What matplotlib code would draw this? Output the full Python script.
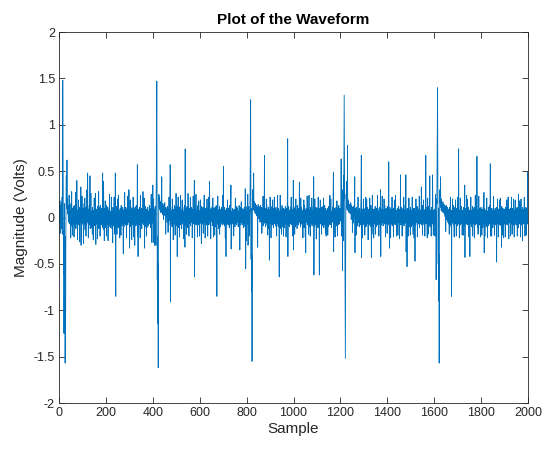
import numpy as np
import matplotlib
matplotlib.use("Agg")
import matplotlib.pyplot as plt

# waveform samples in centivolts, five blocks of 400 samples (one pulse each)
block_1 = [
    3, -6, 11, 18, -17, 5, -9, 13, -4, 15, -12, 6, 22, -18, 70, 148, 96, 25, -60, -15,
    -125, -40, 15, -70, -20, -157, -90, -127, -30, 20, 45, 10, 25, 62, 12, 20, 4, 13, 7, -5,
    9, -3, 24, 5, -7, 6, 15, -4, 2, -22, 7, -9, 4, 28, -6, 2, -19, 10, -2, 5,
    -7, 12, 3, -21, 8, -4, 13, -9, 5, -2, 27, -12, 10, 2, -5, 40, -7, 4, -24, 8,
    1, -5, 19, -8, 4, 11, -2, -26, 6, -1, 8, -5, 33, -30, 4, 7, -8, 23, -3, 5,
    -6, 10, 2, -28, 5, -4, 15, -7, 3, 21, -13, 4, -2, 11, -20, 6, 1, -7, 30, -4,
    7, 48, -5, 9, -22, 2, 6, -8, 13, -3, 4, 45, -12, 5, -2, 26, -7, 4, -11, 7,
    2, -18, 11, -4, 8, -24, 5, 1, -6, 21, -2, 7, -9, 3, 26, -5, -29, 6, 1, -7,
    9, -4, 5, -23, 12, -1, 4, -7, 28, -12, 5, 2, -4, 11, -20, 13, -2, 6, -5, 3,
    -8, 10, 4, -3, 7, 48, -11, 2, 8, 39, -13, 5, -25, 10, -1, -9, 18, 4, -11, 8,
    2, -20, 13, -4, 9, -7, 1, 11, -25, 5, -2, 8, -10, 4, 25, -5, 7, -2, -11, 6,
    4, -8, 22, -1, 7, -12, 5, 2, -27, 11, -4, 8, -9, 3, 22, -5, 10, -18, 1, 48,
    -6, -85, 9, 2, -4, 12, -18, 5, 1, -10, 20, -2, 24, -11, 4, 8, -5, 2, -22, 7,
    10, -3, 5, -19, 13, -1, 4, -9, 6, 2, -5, 11, -7, -39, 8, 3, -10, 5, -2, 27,
    -6, 7, 2, -8, 11, -4, 5, -22, 9, 1, -4, 23, -8, 6, -1, 10, -5, 30, 3, -7,
    -33, 8, -2, 19, -10, 12, 1, -6, 7, -24, 4, 10, -3, 2, -8, 22, -5, 7, -21, 4,
    8, -2, -30, 11, -7, 5, 1, -9, 13, -4, 6, -7, 2, 57, -20, 5, -42, 9, -4, 7,
    -8, 3, 11, -5, 4, -22, 24, -1, 7, -7, 10, 2, -12, 5, -3, 8, -6, 28, -4, 4,
    6, -8, 21, -2, -33, 7, 1, -10, 12, -5, 4, 9, -20, 2, -11, 8, -1, 11, -4, 5,
    -9, 7, 2, -5, 13, -7, 4, -2, 10, -11, 5, 1, 25, -6, 8, -27, 3, -4, 11, 35,
]
block_2 = [
    4, -7, 20, -27, 6, -5, 9, -30, 2, 12, -9, 5, -30, 20, 45, 110, 147, 60, -67, -20,
    -114, -50, -162, -80, 10, 25, 14, 9, 22, 11, 17, 7, 15, 12, 5, 18, 10, 44, 6, 14,
    11, 3, 15, 7, 12, -2, 9, 13, 4, 10, 16, 2, 8, 6, -18, 11, 5, 8, 1, 9,
    -5, 7, 12, 2, -16, 9, 4, -8, 22, 2, 6, -3, 7, 57, -91, 12, 4, -7, 8, -2,
    5, -10, 20, 3, -4, 8, -24, 5, 1, 9, -7, 13, -2, 6, -19, 4, 11, -5, 26, -1,
    4, -9, 12, -42, 7, 2, -6, 22, -4, 5, -11, 8, 1, -21, 11, -7, 3, 24, -8, 6,
    -2, 8, -12, 5, 19, -4, 1, 11, -7, 4, -23, 7, 2, -5, 13, -3, -32, 74, 6, -8,
    5, 10, -18, 2, -8, 12, -1, 7, -11, 26, 8, -4, 5, -20, 10, 1, -6, 8, -2, 22,
    -9, 4, 6, -5, 11, -2, 7, -22, 3, 9, -5, 23, -7, 4, -1, 8, 40, -64, 5, -4,
    10, -7, 2, 25, -8, 5, -3, 8, 1, -21, 6, 13, -4, 4, -8, 18, -2, 7, -20, 5,
    7, -2, 19, -6, 4, -10, -28, 12, 2, -5, 8, -7, 5, 11, -17, 3, -9, 7, 24, -5,
    1, 8, -22, 5, -2, 10, -7, 4, 11, -8, 20, -3, 8, -20, 4, 1, -5, 22, -8, 7,
    3, 39, -4, 9, -7, 5, -23, 2, 10, -4, 7, -1, 12, -9, 5, 21, -6, 2, -21, 10,
    -2, 6, 4, -19, 11, -5, 7, -10, 1, 13, -3, 5, -85, 8, -7, 4, 23, -2, 6, -12,
    8, -4, 2, 12, -18, 5, -1, 9, -10, 7, 2, -6, 11, -4, 7, -8, 4, 24, -5, 10,
    55, -7, 5, 1, -9, 11, -3, 8, -22, 4, 8, -42, 6, -2, 10, -7, 3, 19, -5, 7,
    -8, 4, 10, -2, 6, -11, 13, -4, 2, 8, -7, 11, 35, -34, 5, -19, 7, 1, -5, 10,
    2, -7, 8, 5, -20, 4, 9, -4, 7, -10, 1, 21, -6, 8, -2, 5, -8, 12, -3, 6,
    10, -5, 4, -10, 7, 2, -7, 13, -2, 5, -35, 8, 4, -8, 11, -1, 17, -5, 3, 10,
    -8, 6, -4, 9, 1, -11, 8, 5, -6, 11, -2, 7, -10, 31, 4, -55, 12, -4, -25, 5,
]
block_3 = [
    2, -7, 11, -5, 25, -30, 6, -9, 12, -4, 7, -20, 3, 9, 40, 90, 127, 50, -45, 10,
    -80, -40, -155, -60, 15, 30, 12, 8, 18, 48, 13, 9, 17, 6, 14, 11, 4, 15, 9, 12,
    7, 13, 2, 11, 6, -3, -32, 10, 14, 5, 8, -1, 12, 7, 3, 10, -5, 8, 13, 4,
    9, -4, 6, 11, -17, 4, 8, -5, 2, 23, -9, 7, 3, -2, 12, 67, -6, 5, 8, -10,
    4, 10, -5, 20, -2, 13, -8, 5, 1, -19, 9, -4, 6, 11, -12, 2, -46, 8, -3, 22,
    10, -6, 4, -22, 8, 1, -5, 12, -8, 4, 19, -2, 10, -11, 5, 2, -7, 22, -4, 7,
    -1, 9, -9, 5, 11, -5, 3, -20, 8, -2, 6, 24, -7, 4, -10, 10, 1, -5, -64, 7,
    5, -8, 24, -3, 7, -12, 4, 8, -18, 2, 13, -4, 7, -10, 5, 10, -20, 2, -2, 9,
    -11, 6, 4, -7, 12, -2, 8, -21, 5, 1, 10, -5, 7, 30, 85, -42, 4, -8, 12, 3,
    -5, 8, -10, 5, 2, -7, 11, -4, 7, 22, -8, 4, -1, 9, -6, 7, -20, 4, 40, -35,
    8, -4, 10, 1, -18, 5, 12, -10, 3, 20, -2, 8, -7, 5, -12, 13, 2, -5, 10, -3,
    7, -8, 4, 12, 38, -5, 7, -1, 9, -10, 21, 2, -7, 11, -4, 8, 1, -19, 6, -22,
    4, 10, -6, 19, -11, 7, 13, -3, 5, -21, 8, -38, 4, 10, -5, 7, -2, 23, -8, 5,
    1, -7, 9, -18, 6, 24, -10, 3, -2, 8, -20, 5, 11, -7, 4, 1, -5, 21, -9, 7,
    -2, 8, -5, 12, 4, 44, -62, 7, -10, 5, 20, -4, 6, -8, 2, 11, -23, 8, -1, 4,
    10, -7, 5, -11, 22, -3, 7, 2, -8, -62, 10, -5, 4, 19, -7, 6, -1, 11, -18, 5,
    7, -4, 3, -9, 12, 1, -6, 21, -11, 5, 9, -2, 13, -8, 4, -17, 10, 1, -20, 7,
    -4, 8, 5, -7, 10, -19, 6, -10, 2, 12, -5, 8, -7, 4, 24, -8, 5, -1, 20, -6,
    4, -11, 7, 2, -5, 11, -3, 7, 26, 49, -37, 5, -8, 10, -2, 6, -21, 8, 1, -5,
    11, -7, 4, -9, 18, 5, -20, 9, -2, 7, -8, 4, 13, -5, 2, -7, 10, -4, 6, 10,
]
block_4 = [
    -3, 7, 63, -20, 5, 25, -7, 9, -57, 30, 6, -25, 45, 20, 90, 132, 70, -10, -40, -90,
    -152, -70, 5, 25, 22, 11, 39, 13, 8, 78, 15, 12, 19, 7, 16, 11, 5, 14, 9, 6,
    12, 4, 10, 16, 6, -2, 8, 13, 5, 11, -16, 7, 10, 2, 12, -6, 7, 9, 2, 5,
    44, -38, 8, -3, 10, 5, -19, 6, 11, -4, 3, -9, 7, 1, 22, -5, 8, -2, 4, -10,
    7, 10, -4, 5, -8, 2, 11, 25, 67, -43, 6, -5, 9, -22, 4, 7, -1, 20, -7, 4,
    -8, 8, 2, -19, 10, -3, 6, 22, -10, 5, -1, 20, -7, 4, 11, -4, 7, -24, 3, 9,
    -6, 5, 1, -8, 21, -2, 7, -10, 5, 13, -5, -43, 8, 3, -9, 24, -2, 6, -18, 8,
    4, -22, 9, -4, 7, 2, -7, 12, -18, 8, -1, 5, -10, 10, 2, -6, 8, 24, -8, 4,
    7, -3, 5, -20, 10, 1, -7, 11, -4, 8, 30, -42, 4, 9, -8, 6, -2, 23, -5, 5,
    2, -9, 8, 7, -5, 20, -7, 3, 13, -4, 5, -21, 8, -2, 10, -6, 4, 1, -17, 12,
    -2, 7, 10, -5, 4, 60, -8, 8, -33, 5, 11, -4, 7, -22, 2, 9, -7, 5, -1, 22,
    -9, 4, 8, -3, 6, -21, 10, 1, -6, 19, -5, 7, -8, 4, 24, -7, 5, -2, 8, -20,
    5, 7, -4, 10, -19, 2, 12, -5, 8, -1, 6, -23, 9, 4, -7, 46, -8, 7, -2, 11,
    -5, 5, -20, 8, 2, -7, 10, -3, 7, 22, -9, 4, -1, 8, -6, 13, 5, -4, 46, -37,
    7, -7, 3, -53, 10, -4, 6, 1, -20, 9, -5, 21, -2, 5, -10, 8, 2, -19, 11, -3,
    7, -10, 4, 8, -5, 22, -8, 5, 1, -18, 10, -4, 7, -22, 3, 10, -7, -47, 6, 2,
    -8, 20, -1, 8, -5, 4, 12, -21, 5, 7, -4, 9, -7, 2, -2, 23, -11, 6, 4, -7,
    8, -2, 5, 10, 33, -8, 7, -5, 13, -19, 3, 6, -6, 19, -1, 8, -8, 5, 2, -20,
    9, -4, 7, 67, -7, 4, 11, -3, 5, -22, 8, 21, -5, 12, -18, 4, 7, -2, 10, -7,
    45, -10, 5, 8, -4, 6, -20, 11, 2, -5, 9, -7, 46, -1, 7, -19, 4, 8, -5, 7,
]
block_5 = [
    -6, 9, -20, 5, 25, -9, 6, -67, -30, 20, 15, 60, 110, 140, 80, -20, -50, 10, -90, -40,
    -157, -80, 20, 30, 16, 20, 44, 11, 17, 7, 20, 12, 9, 15, 6, 13, 17, 8, 5, 12,
    10, 14, 4, 11, 7, 1, 12, 6, -15, 9, 13, 5, -2, 10, 7, 2, 11, -5, 8, 4,
    -7, 9, 5, -18, 11, 2, -8, 7, 22, -5, 4, -10, 7, -85, 8, 3, -6, 20, -2, 5,
    13, -8, 5, 1, -21, 8, -4, 11, -7, 4, 19, -2, 6, -20, 10, 2, -5, 7, -9, 22,
    -4, 5, 9, 74, -7, 4, -22, 8, 1, -5, 21, -8, 7, 3, -2, 12, -6, 5, -19, 8,
    2, -5, 7, -19, 11, -1, 6, 4, -9, 35, -43, 5, 10, -4, 8, -7, 2, 24, -5, 4,
    -8, 20, 1, -6, 11, -3, 7, -21, 5, 8, -4, -42, 7, -7, 3, 22, -2, 6, -10, 8,
    4, -5, 12, -20, 5, 1, -7, 9, -2, 11, -22, 4, 7, -5, 24, -8, 6, 2, -4, 19,
    -7, 66, 7, -11, 5, 8, -18, 6, -9, 23, -1, 5, -8, 10, 2, -6, -21, -4, 11, -10,
    4, 7, -19, 9, -2, 6, -11, 4, 12, -7, 8, 27, -38, 3, 10, -20, 5, -1, 8, -5,
    7, -10, 2, 21, -4, 7, -22, 5, 1, -6, 11, -9, 4, 8, -2, 13, -7, 5, 58, -20,
    6, -4, 9, 2, -20, 10, -5, 4, 7, -11, 5, -1, 23, -7, 8, 3, -19, 7, -3, 10,
    -8, 5, 1, -5, 11, -48, 8, -7, 4, 20, -4, 6, -21, 9, 1, -6, 8, -2, 19, -8,
    5, 21, -5, 7, -9, 4, -32, 12, -2, 7, -19, 4, 10, -4, 6, -22, 8, 2, -7, 9,
    -3, 7, -21, 5, 11, -5, 4, -7, 19, 1, -8, 11, -4, 6, 22, -6, 4, -23, 9, 2,
    -5, 8, -2, 7, -20, 10, 5, -7, 22, -3, 7, -18, 4, 10, -5, 5, -8, 20, -1, 6,
    -21, 8, 3, -6, 19, -4, 7, 1, -8, 9, -5, 4, 11, -20, 6, -2, 10, -11, 25, 5,
    -4, 8, -7, 18, 10, -2, 5, -21, 7, 20, -5, 8, -8, 2, 7, -25, 11, -4, 6, -7,
    9, -6, 5, 22, -3, 7, -20, 4, 8, -5, 11, -19, 4, 6, -2, 10, -7, 5, 49, -5,
]

signal = np.array(block_1 + block_2 + block_3 + block_4 + block_5) / 100.0
sample = np.arange(1, len(signal) + 1)

plt.rcParams['font.family'] = ['Liberation Sans', 'DejaVu Sans']
edge = '#262626'

fig = plt.figure(figsize=(5.45, 4.5), dpi=100)
ax = fig.add_axes([0.1083, 0.1044, 0.8606, 0.8244])
ax.plot(sample, signal, color='#0072BD', linewidth=0.6)

ax.set_xlim(0, 2000)
ax.set_ylim(-2, 2)
ax.set_xticks(np.arange(0, 2001, 200))
ax.set_yticks(np.arange(-2, 2.01, 0.5))
ax.set_yticklabels(['-2', '-1.5', '-1', '-0.5', '0', '0.5', '1', '1.5', '2'])
ax.tick_params(direction='in', length=4, width=0.6, top=True, right=True,
               labelsize=9, colors=edge, pad=3)
for sp in ax.spines.values():
    sp.set_color(edge)
    sp.set_linewidth(0.6)

ax.set_title('Plot of the Waveform', fontsize=11, fontweight='bold', color='black', pad=6)
ax.set_xlabel('Sample', fontsize=11, color=edge, labelpad=2)
ax.set_ylabel('Magnitude (Volts)', fontsize=11, color=edge, labelpad=4)

fig.savefig('out.png', dpi=100)
